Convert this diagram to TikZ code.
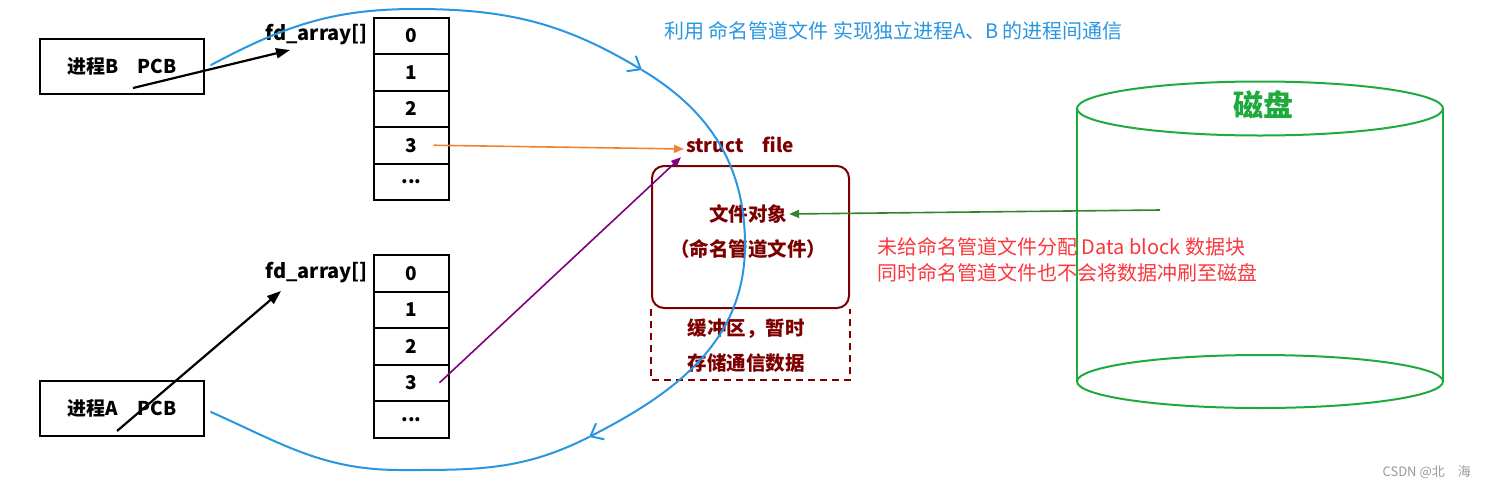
\documentclass[tikz,border=0pt]{standalone}
\usepackage{fontspec}
\setmainfont{Noto Sans CJK SC}
\usepackage{tikz}
\usetikzlibrary{arrows.meta, positioning, calc}

\definecolor{pipeblue}{RGB}{40,150,225}
\definecolor{filered}{RGB}{125,0,0}
\definecolor{notered}{RGB}{250,55,60}
\definecolor{diskgreen}{RGB}{30,170,60}
\definecolor{ptrorange}{RGB}{240,130,50}
\definecolor{ptrpurple}{RGB}{128,0,128}
\definecolor{ptrgreen}{RGB}{50,130,45}

\newcommand{\fsz}[2]{\fontsize{#1}{#2}\selectfont}

\begin{document}
\begin{tikzpicture}[x=1pt, y=1pt,
    pcb/.style={draw, line width=2pt, minimum width=164pt, minimum height=55pt, font=\fsz{19}{23}\bfseries},
    cell/.style={draw, line width=2pt, minimum width=75pt, minimum height=36.5pt, inner sep=0pt, font=\fsz{19}{23}\bfseries},
    fdlab/.style={inner sep=2pt, font=\fsz{20}{24}\bfseries},
    filetext/.style={text=filered, inner sep=2pt, font=\fsz{19.5}{24}\bfseries},
    ptr/.style={line width=2.2pt, -{Triangle[length=14pt,width=10pt]}},
    thinptr/.style={line width=1.6pt, -{Triangle[length=10pt,width=8pt]}},
    pipe/.style={pipeblue, line width=2pt, line cap=round},
    pipetip/.style={pipe, -{Straight Barb[length=11pt,width=18pt]}},
    disk/.style={diskgreen, line width=2pt}
]
\useasboundingbox (0,0) rectangle (1488,-488);

% processes and their fd tables
\node[pcb] (pcbB) at (122,-66.5) {进程B\quad PCB};
\node[pcb] (pcbA) at (122,-408.5) {进程A\quad PCB};
\foreach \i in {0,...,3} {
  \node[cell] (fdB\i) at (411.5,-35.75-36.5*\i) {\i};
  \node[cell] (fdA\i) at (411.5,-273.25-36.5*\i) {\i};
}
\node[cell] (fdB4) at (411.5,-181.75) {...};
\node[cell] (fdA4) at (411.5,-419.25) {...};
\node[fdlab, left=3pt of fdB0, yshift=1pt] (fdlabB) {fd\_array[]};
\node[fdlab, left=3pt of fdA0, yshift=1pt] (fdlabA) {fd\_array[]};

% the named pipe file
\node[filetext, font=\fsz{19}{23}\bfseries] (sfile) at (740,-145) {struct\quad file};
\node[draw=filered, line width=2pt, rounded corners=12pt, minimum width=197pt, minimum height=142pt] (filebox) at (750.5,-237) {};
\draw[filered, line width=2pt, dash pattern=on 7pt off 5pt] (filebox.south west) -- ++(0,-71) -| (filebox.south east);
\node[filetext] (fileobj) at (748,-214) {文件对象};
\node[filetext] (pipefile) at (748,-249) {（命名管道文件）};
\node[filetext] (buf1) at (746,-329) {缓冲区，暂时};
\node[filetext] (buf2) at (746,-363) {存储通信数据};

% disk
\draw[disk] (1260,-108.5) ellipse [x radius=183, y radius=27];
\draw[disk] (1260,-381.5) ellipse [x radius=183, y radius=26.5];
\draw[disk] (1077,-108.5) -- (1077,-381.5) (1443,-108.5) -- (1443,-381.5);
\node[text=diskgreen, font=\fsz{30}{34}\bfseries] (disklab) at (1263,-105) {磁盘};

\node[text=notered, anchor=west, align=left, inner sep=0pt, font=\fsz{20}{26}] (note) at (877,-260) {未给命名管道文件分配 Data block 数据块\\同时命名管道文件也不会将数据冲刷至磁盘};
\node[text=pipeblue, anchor=west, inner sep=0pt, font=\fsz{20}{24}] (title) at (664,-31) {利用 命名管道文件 实现独立进程A、B 的进程间通信};
\node[text=black!40, anchor=east, inner sep=0pt, font=\fsz{13}{15}] (mark) at (1471,-472) {CSDN @北　海};

% pointers
\coordinate (tailB) at ($(pcbB.center)+(11,-21.5)$);
\coordinate (headB) at (290,-50);
\draw[ptr] (tailB) -- (headB);
\coordinate (tailA) at ($(pcbA.center)+(-5,-22.5)$);
\coordinate (headA) at (281,-291);
\draw[ptr] (tailA) -- (headA);
\draw[thinptr, ptrorange] ($(fdB3.center)+(22,0)$) -- ([yshift=-4pt]sfile.west);
\draw[thinptr, ptrpurple] ($(fdA3.center)+(28,0)$) -- ([xshift=-3pt,yshift=-2pt]sfile.south west);
\coordinate (diskport) at (1160,-210);
\draw[thinptr, ptrgreen] (diskport) -- (fileobj.east);

% communication loop
\coordinate (pipetop) at (415,-9);
\coordinate (pipein) at (642,-70);
\coordinate (piperight) at (745,-245);
\coordinate (pipeout) at (589,-437);
\coordinate (pipebot) at (400,-470);
\draw[pipetip] ($(pcbB.east)+(6,1.5)$) to[out=28,in=180] (pipetop) to[out=0,in=149] (pipein);
\draw[pipetip] (pipein) to[out=-31,in=90] (piperight) to[out=-90,in=27] (pipeout);
\draw[pipe] (pipeout) to[out=207,in=0] (pipebot) to[out=180,in=-24] ($(pcbA.east)+(6,-3.5)$);
\end{tikzpicture}
\end{document}
